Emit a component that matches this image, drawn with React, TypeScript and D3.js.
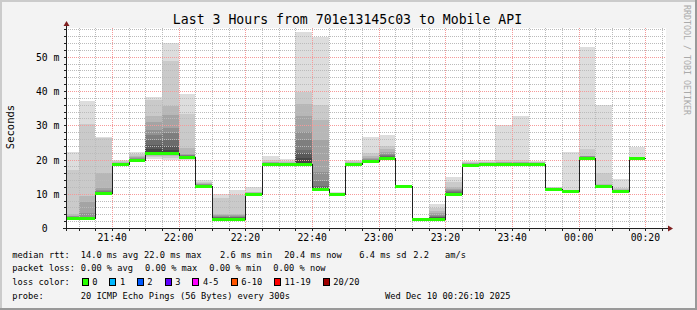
import React from "react";
import * as d3 from "d3";

const W = 697;
const H = 310;

// time in minutes after 21:00
const startMin = 26 + 10 / 60; // 21:26:10
const endMin = startMin + 180; // 00:26:10
const firstStepStart = 25; // 21:25
const stepMin = 5;

const medians = [2.9, 2.9, 10.3, 18.7, 19.8, 21.9, 22.0, 20.6, 12.4, 2.7, 2.7, 9.9, 18.7, 18.7, 18.7, 11.5, 9.9, 18.7, 19.5, 20.3, 12.3, 2.6, 2.7, 9.9, 18.4, 18.7, 18.7, 18.7, 18.7, 11.3, 10.7, 20.4, 12.4, 10.8, 20.4];

const pings = [
  [2.4, 2.6, 2.7, 2.8, 2.8, 2.8, 2.9, 2.9, 2.9, 2.9, 2.9, 3.0, 3.0, 3.1, 3.2, 3.4, 3.6, 4.0, 16.9, 22.3],
  [2.4, 2.6, 2.7, 2.8, 2.8, 2.9, 2.9, 2.9, 2.9, 2.9, 2.9, 3.0, 3.1, 3.2, 3.3, 4.3, 7.7, 9.2, 30.3, 37.1],
  [9.6, 9.8, 9.9, 10.0, 10.1, 10.1, 10.2, 10.2, 10.3, 10.3, 10.3, 10.4, 10.5, 10.6, 10.7, 11.0, 11.6, 16.1, 26.2, 26.7],
  [18.3, 18.4, 18.5, 18.5, 18.6, 18.6, 18.6, 18.6, 18.7, 18.7, 18.7, 18.7, 18.8, 18.8, 18.9, 19.0, 19.1, 19.3, 19.6, 20.0],
  [19.2, 19.4, 19.5, 19.6, 19.7, 19.7, 19.7, 19.8, 19.8, 19.8, 19.8, 19.9, 20.0, 20.1, 20.2, 20.4, 20.7, 21.0, 21.5, 22.1],
  [20.2, 20.6, 21.0, 21.3, 21.5, 21.6, 21.7, 21.8, 21.8, 21.8, 22.3, 23.1, 24.3, 25.7, 27.2, 28.6, 31.1, 32.8, 37.4, 38.3],
  [20.0, 20.5, 20.9, 21.2, 21.4, 21.6, 21.7, 21.8, 21.8, 21.8, 22.3, 22.8, 23.9, 25.7, 27.7, 29.2, 33.0, 35.5, 48.9, 54.0],
  [19.9, 20.1, 20.2, 20.3, 20.4, 20.5, 20.5, 20.6, 20.6, 20.6, 20.8, 20.9, 21.0, 21.1, 21.2, 21.3, 21.5, 23.4, 33.2, 39.0],
  [12.0, 12.1, 12.2, 12.3, 12.3, 12.4, 12.4, 12.4, 12.4, 12.4, 12.5, 12.6, 12.6, 12.7, 12.7, 12.8, 12.9, 13.1, 13.4, 13.9],
  [2.3, 2.4, 2.5, 2.5, 2.6, 2.6, 2.7, 2.7, 2.7, 2.7, 2.8, 2.9, 3.0, 3.1, 3.2, 3.4, 3.7, 4.0, 8.7, 9.8],
  [2.3, 2.4, 2.5, 2.5, 2.6, 2.6, 2.7, 2.7, 2.7, 2.7, 2.8, 2.9, 3.0, 3.1, 3.2, 3.4, 3.7, 4.0, 9.6, 11.1],
  [9.5, 9.6, 9.7, 9.7, 9.8, 9.8, 9.8, 9.9, 9.9, 9.9, 9.9, 10.0, 10.1, 10.1, 10.2, 10.2, 10.3, 10.4, 10.6, 12.0],
  [18.3, 18.4, 18.5, 18.5, 18.6, 18.6, 18.6, 18.7, 18.7, 18.7, 18.8, 18.8, 18.9, 18.9, 19.0, 19.1, 19.2, 19.4, 19.9, 21.0],
  [18.3, 18.4, 18.5, 18.5, 18.6, 18.6, 18.6, 18.7, 18.7, 18.7, 18.8, 18.8, 18.9, 18.9, 19.0, 19.0, 19.1, 19.2, 19.5, 20.1],
  [18.2, 18.3, 18.4, 18.5, 18.5, 18.6, 18.6, 18.6, 18.6, 18.6, 18.9, 20.4, 21.9, 22.8, 25.7, 28.0, 32.8, 36.2, 39.6, 57.1],
  [10.8, 11.0, 11.1, 11.2, 11.3, 11.3, 11.4, 11.4, 11.4, 11.4, 11.6, 11.8, 12.0, 12.4, 13.6, 16.5, 25.8, 31.6, 36.0, 55.7],
  [9.6, 9.7, 9.7, 9.8, 9.8, 9.8, 9.8, 9.9, 9.9, 9.9, 9.9, 9.9, 10.0, 10.0, 10.0, 10.1, 10.1, 10.2, 10.3, 10.4],
  [18.3, 18.4, 18.5, 18.5, 18.6, 18.6, 18.6, 18.7, 18.7, 18.7, 18.8, 18.8, 18.9, 18.9, 19.0, 19.0, 19.1, 19.2, 19.5, 19.9],
  [19.0, 19.1, 19.2, 19.3, 19.3, 19.4, 19.4, 19.4, 19.4, 19.4, 19.6, 19.7, 19.8, 19.9, 20.0, 20.2, 20.5, 21.0, 22.0, 26.6],
  [19.8, 19.9, 20.0, 20.1, 20.1, 20.2, 20.2, 20.2, 20.2, 20.2, 20.5, 20.6, 20.8, 21.0, 21.3, 21.7, 22.3, 23.2, 24.0, 27.2],
  [12.0, 12.1, 12.1, 12.2, 12.2, 12.2, 12.3, 12.3, 12.3, 12.3, 12.3, 12.3, 12.4, 12.4, 12.4, 12.5, 12.5, 12.6, 12.6, 12.7],
  [2.3, 2.4, 2.4, 2.5, 2.5, 2.5, 2.6, 2.6, 2.6, 2.6, 2.6, 2.6, 2.7, 2.7, 2.7, 2.8, 2.8, 2.9, 2.9, 3.0],
  [2.3, 2.4, 2.5, 2.5, 2.6, 2.6, 2.6, 2.6, 2.6, 2.6, 2.9, 3.0, 3.1, 3.3, 3.6, 3.9, 4.4, 5.0, 5.9, 7.0],
  [9.3, 9.4, 9.5, 9.6, 9.7, 9.7, 9.8, 9.8, 9.8, 9.8, 10.0, 10.1, 10.2, 10.4, 10.7, 11.0, 11.5, 12.1, 13.5, 15.0],
  [17.9, 18.0, 18.1, 18.2, 18.2, 18.3, 18.3, 18.3, 18.3, 18.3, 18.5, 18.6, 18.7, 18.7, 18.8, 18.8, 18.9, 19.0, 19.2, 19.6],
  [18.3, 18.4, 18.5, 18.5, 18.6, 18.6, 18.6, 18.7, 18.7, 18.7, 18.8, 18.8, 18.9, 18.9, 19.0, 19.0, 19.1, 19.2, 19.4, 19.8],
  [18.3, 18.4, 18.5, 18.5, 18.6, 18.6, 18.6, 18.7, 18.7, 18.7, 18.8, 18.8, 18.9, 18.9, 19.0, 19.1, 19.2, 19.4, 19.9, 30.1],
  [18.3, 18.4, 18.5, 18.5, 18.6, 18.6, 18.6, 18.7, 18.7, 18.7, 18.8, 18.8, 18.9, 18.9, 19.0, 19.1, 19.2, 19.4, 19.9, 32.8],
  [18.3, 18.4, 18.5, 18.5, 18.6, 18.6, 18.6, 18.7, 18.7, 18.7, 18.8, 18.8, 18.9, 18.9, 19.0, 19.0, 19.1, 19.2, 19.4, 19.7],
  [10.9, 11.0, 11.1, 11.1, 11.2, 11.2, 11.3, 11.3, 11.3, 11.3, 11.4, 11.4, 11.5, 11.5, 11.6, 11.6, 11.7, 11.8, 11.9, 12.0],
  [10.3, 10.4, 10.5, 10.5, 10.6, 10.6, 10.7, 10.7, 10.7, 10.7, 10.8, 10.8, 10.9, 10.9, 10.9, 11.0, 11.0, 11.1, 11.2, 22.2],
  [19.9, 20.0, 20.1, 20.2, 20.2, 20.3, 20.3, 20.3, 20.4, 20.4, 20.5, 20.6, 20.6, 20.7, 20.8, 20.9, 21.0, 21.0, 23.0, 53.0],
  [12.0, 12.1, 12.2, 12.2, 12.3, 12.3, 12.3, 12.4, 12.4, 12.4, 12.5, 12.5, 12.6, 12.6, 12.6, 12.6, 12.7, 12.8, 16.0, 35.9],
  [10.4, 10.5, 10.6, 10.6, 10.7, 10.7, 10.8, 10.8, 10.8, 10.8, 10.9, 10.9, 11.0, 11.0, 11.1, 11.1, 11.2, 11.4, 11.7, 14.3],
  [20.0, 20.1, 20.2, 20.2, 20.3, 20.3, 20.3, 20.4, 20.4, 20.4, 20.5, 20.5, 20.6, 20.6, 20.6, 20.7, 20.7, 20.7, 20.8, 23.8],
];

const xTickMinutes = [40, 60, 80, 100, 120, 140, 160, 180, 200];
const xTickLabels = ["21:40", "22:00", "22:20", "22:40", "23:00", "23:20", "23:40", "00:00", "00:20"];
const yTickValues = [0, 10, 20, 30, 40, 50];
const yTickLabels = ["0", "10 m", "20 m", "30 m", "40 m", "50 m"];

const title = "Last 3 Hours from 701e13145c03 to Mobile API";
const rttLegend = ["median rtt:", "14.0 ms avg", "22.0 ms max", "2.6 ms min", "20.4 ms now", "6.4 ms sd", "2.2", "am/s"];
const lossLegend = ["packet loss:", "0.00 % avg", "0.00 % max", "0.00 % min", "0.00 % now"];
const lossColorLabels = ["0", "1", "2", "3", "4-5", "6-10", "11-19", "20/20"];
const lossColors = ["#26ff00", "#00b8ff", "#0059ff", "#5e00ff", "#ff00ff", "#ff5500", "#ff0000", "#a00000"];
const probeText = "20 ICMP Echo Pings (56 Bytes) every 300s";
const dateText = "Wed Dec 10 00:26:10 2025";

// layout
const X0 = 66;
const X1 = 666;
const YB = 228;
const YT = 28;
const yMax = 58.41;

const MONO = "'DejaVu Sans Mono', monospace";

const rttX = [12.3, 80.7, 144, 220, 284.3, 359.3, 413.3, 445];
const lossX = [12.3, 80.7, 145, 209.3, 273.3];
const boxX = [81.7, 109.3, 136.7, 164.7, 192.3, 230.7, 274, 322.7];

export default function App() {
  const x = d3.scaleLinear().domain([startMin, endMin]).range([X0, X1]);
  const y = d3.scaleLinear().domain([0, yMax]).range([YB + 0.5, YT + 0.5]);
  const px = (v: number) => Math.round(v);
  const py = (v: number) => Math.round(y(v) - 0.5);

  const steps = medians.map((m, i) => {
    const t0 = firstStepStart + i * stepMin;
    const t1 = t0 + stepMin;
    const xa = px(x(Math.max(t0, startMin)));
    const xb = px(x(Math.min(t1, endMin)));
    return { i, xa, xb, m };
  });

  const smoke: JSX.Element[] = [];
  steps.forEach((s) => {
    const p = pings[s.i];
    for (let k = 0; k < 10; k++) {
      const lo = p[k];
      const hi = p[19 - k];
      const c = Math.floor((190 / 10) * (10 - (k + 1))) + 50;
      const col = d3.rgb(c, c, c).formatHex();
      const ya = py(hi);
      const yb = py(lo);
      if (yb - ya <= 0) continue;
      smoke.push(
        <rect key={`s${s.i}-${k}`} x={s.xa} y={ya} width={s.xb - s.xa} height={yb - ya} fill={col} />
      );
    }
  });

  // minor grid
  const vMinor: number[] = [];
  for (let t = 30; t <= endMin; t += 5) if (t % 20 !== 0) vMinor.push(t);
  const hMinor: number[] = [];
  for (let v = 2; v <= yMax; v += 2) if (v % 10 !== 0) hMinor.push(v);

  const medianLine = d3
    .line<{ t: number; m: number }>()
    .x((d) => px(x(Math.max(d.t, startMin))) + 0.5)
    .y((d) => py(d.m) + 0.5)
    .curve(d3.curveStepAfter);
  const medPts = medians.map((m, i) => ({ t: firstStepStart + i * stepMin, m }));
  medPts.push({ t: firstStepStart + medians.length * stepMin, m: medians[medians.length - 1] });

  const gridDash = "1,1";

  return (
    <svg width={W} height={H} style={{ display: "block", position: "absolute", left: 0, top: 0 }}>
      <rect x={0} y={0} width={W} height={H} fill="#f3f3f3" />
      {/* 3D border */}
      <path d={`M0,0 H${W} V2 H2 V${H} H0 Z`} fill="#cbcbcb" />
      <path d={`M${W},${H} H0 V${H - 2} H${W - 2} V0 H${W} Z`} fill="#999999" />

      <rect x={X0} y={YT} width={X1 - X0} height={YB - YT} fill="#ffffff" />

      <g shapeRendering="crispEdges">{smoke}</g>

      {/* grid */}
      <g shapeRendering="crispEdges">
        {vMinor.map((t) => (
          <line key={`vm${t}`} x1={px(x(t)) + 0.5} x2={px(x(t)) + 0.5} y1={YT} y2={YB} stroke="#bbbbbb" strokeDasharray={gridDash} />
        ))}
        {hMinor.map((v) => (
          <line key={`hm${v}`} x1={X0} x2={X1} y1={py(v) + 0.5} y2={py(v) + 0.5} stroke="#bbbbbb" strokeDasharray={gridDash} />
        ))}
        {xTickMinutes.map((t) => (
          <line key={`vM${t}`} x1={px(x(t)) + 0.5} x2={px(x(t)) + 0.5} y1={YT} y2={YB} stroke="#f59a9a" strokeDasharray={gridDash} />
        ))}
        {yTickValues.slice(1).map((v) => (
          <line key={`hM${v}`} x1={X0} x2={X1} y1={py(v) + 0.5} y2={py(v) + 0.5} stroke="#f59a9a" strokeDasharray={gridDash} />
        ))}
      </g>

      {/* median black step line */}
      <path d={medianLine(medPts) || ""} fill="none" stroke="#202020" strokeWidth={1} shapeRendering="crispEdges" />
      {/* loss coloured median */}
      <g shapeRendering="crispEdges">
        {steps.map((s) => (
          <rect key={`g${s.i}`} x={s.xa} y={py(s.m) - 1} width={s.xb - s.xa} height={3} fill={lossColors[0]} />
        ))}
      </g>

      {/* axes */}
      <g shapeRendering="crispEdges">
        <line x1={X0 - 3} x2={X1 + 3} y1={YB + 0.5} y2={YB + 0.5} stroke="#202020" />
        <line x1={X0 + 0.5} x2={X0 + 0.5} y1={YB + 3} y2={YT - 3} stroke="#202020" />
        {vMinor.concat(xTickMinutes).map((t) => (
          <line key={`tx${t}`} x1={px(x(t)) + 0.5} x2={px(x(t)) + 0.5} y1={YB + 1} y2={YB + 3} stroke="#202020" />
        ))}
        {hMinor.concat(yTickValues.slice(1)).map((v) => (
          <line key={`ty${v}`} x1={X0 - 2} x2={X0} y1={py(v) + 0.5} y2={py(v) + 0.5} stroke="#202020" />
        ))}
      </g>
      <path d={`M${X0 - 2.5},${YT - 2} L${X0 + 3.5},${YT - 2} L${X0 + 0.5},${YT - 7} Z`} fill="#7f1f1f" />
      <path d={`M${X1 + 2},${YB - 2.5} L${X1 + 2},${YB + 3.5} L${X1 + 7},${YB + 0.5} Z`} fill="#7f1f1f" />

      {/* tick labels */}
      <g fontFamily={MONO} fontSize={9.75} fill="#000">
        {xTickMinutes.map((t, i) => (
          <text key={`xl${t}`} x={x(t)} y={240.5} textAnchor="middle">{xTickLabels[i]}</text>
        ))}
        {yTickValues.map((v, i) => (
          <text key={`yl${v}`} x={v === 0 ? 47.6 : 59.4} y={y(v) + 3.5} textAnchor="end">{yTickLabels[i]}</text>
        ))}
        <text transform={`translate(13.5,127) rotate(-90)`} textAnchor="middle" fontSize={10.5}>Seconds</text>
      </g>

      {/* title */}
      <text x={347.5} y={23.5} textAnchor="middle" fontFamily={MONO} fontSize={13.2} fill="#000">{title}</text>

      {/* watermark */}
      <text transform={`translate(683.5,5) rotate(90)`} fontFamily={MONO} fontSize={8.3} fill="#aaaaaa">RRDTOOL / TOBI OETIKER</text>

      {/* legend */}
      <g fontFamily={MONO} fontSize={8.7} fill="#000">
        {rttLegend.map((s, i) => (
          <text key={`r${i}`} x={rttX[i]} y={257.5}>{s}</text>
        ))}
        {lossLegend.map((s, i) => (
          <text key={`l${i}`} x={lossX[i]} y={271.3}>{s}</text>
        ))}
        <text x={12.3} y={285.3}>loss color:</text>
        {lossColorLabels.map((s, i) => (
          <g key={`lc${i}`}>
            <rect x={boxX[i] + 0.5} y={278.5} width={6} height={7} fill={lossColors[i]} stroke="#000" strokeWidth={1} shapeRendering="crispEdges" />
            <text x={boxX[i] + 10.6}  y={285.3}>{s}</text>
          </g>
        ))}
        <text x={12.3} y={299.2}>probe:</text>
        <text x={80.7} y={299.2}>{probeText}</text>
        <text x={510.5} y={299.2} textAnchor="end">{dateText}</text>
      </g>
    </svg>
  );
}
